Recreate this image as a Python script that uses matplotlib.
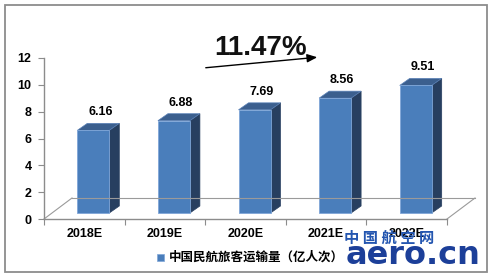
import matplotlib
matplotlib.use("Agg")
import matplotlib.pyplot as plt
from matplotlib.patches import Polygon, Rectangle

categories = ["2018E", "2019E", "2020E", "2021E", "2022E"]
values = [6.16, 6.88, 7.69, 8.56, 9.51]
yticks = [0, 2, 4, 6, 8, 10, 12]
growth_label = "11.47%"
legend_label = "中国民航旅客运输量（亿人次）"

W, H = 494, 278
fig = plt.figure(figsize=(W / 100, H / 100), dpi=100)
fig.patch.set_facecolor("white")

# outer frame
fig.patches.append(Rectangle((5 / W, 6 / H), 482 / W, 267 / H, transform=fig.transFigure,
                             fill=False, edgecolor="#8c8c8c", linewidth=1.3))

ax = fig.add_axes([44 / W, 59 / H, 403 / W, 161 / H])
ax.set_xlim(-0.5, len(categories) - 0.5)
ax.set_ylim(0, 12)
ax.set_facecolor("none")
px_x = len(categories) / 403.0
px_y = 12 / 161.0

for s in ["top", "right"]:
    ax.spines[s].set_visible(False)
for s in ["left", "bottom"]:
    ax.spines[s].set_color("#8c8c8c")
    ax.spines[s].set_linewidth(1.0)

ax.set_yticks(yticks)
ax.set_yticklabels([str(t) for t in yticks], fontsize=9, fontweight="bold",
                   family=["Liberation Sans", "DejaVu Sans"])
ax.tick_params(axis="y", length=4, color="#8c8c8c", pad=5)
ax.set_xticks([i + 0.5 for i in range(-1, len(categories))], minor=False)
ax.set_xticklabels([])
ax.tick_params(axis="x", length=4, color="#8c8c8c", direction="out")
for i, c in enumerate(categories):
    ax.text(i, -0.7, c, ha="center", va="top", fontsize=9, fontweight="bold",
            family=["Liberation Sans", "DejaVu Sans"])

# floor (3D perspective)
fdx, fdy = 28 * px_x, 21 * px_y
x0, x1 = -0.5, len(categories) - 0.5
floor_kw = dict(color="#9a9a9a", linewidth=0.8, clip_on=False)
ax.plot([x0, x0 + fdx], [0, fdy], **floor_kw)
ax.plot([x1, x1 + fdx], [0, fdy], **floor_kw)
ax.plot([x0 + fdx, x1 + fdx], [fdy, fdy], **floor_kw)

# 3D bars
off_x, off_y = 9 * px_x, 6 * px_y
hw = 16 * px_x
dx, dy = 10 * px_x, 7 * px_y
front_c, side_c, top_c = "#4a7ebb", "#273f60", "#3b5f8e"
for i, v in enumerate(values):
    xl, xr = i + off_x - hw, i + off_x + hw
    yb, yt = off_y, v + off_y
    ax.add_patch(Polygon([(xr, yb), (xr + dx, yb + dy), (xr + dx, yt + dy), (xr, yt)],
                         closed=True, facecolor=side_c, edgecolor=side_c, linewidth=0.5, clip_on=False))
    ax.add_patch(Polygon([(xl, yt), (xr, yt), (xr + dx, yt + dy), (xl + dx, yt + dy)],
                         closed=True, facecolor=top_c, edgecolor="#5b82b8", linewidth=0.5, clip_on=False))
    ax.add_patch(Rectangle((xl, yb), xr - xl, yt - yb, facecolor=front_c,
                           edgecolor="#7fa6d8", linewidth=0.6, clip_on=False))
    ax.text((xl + xr + dx) / 2 + 2 * px_x, yt + dy + 5 * px_y, f"{v:.2f}", ha="center", va="bottom",
            fontsize=9, fontweight="bold", family=["Liberation Sans", "DejaVu Sans"])

# growth annotation
fig.text(261 / W, 1 - 48 / H, growth_label, ha="center", va="center", fontsize=20,
         fontweight="bold", color="#111111", family=["Liberation Sans", "DejaVu Sans"])
fig.add_artist(matplotlib.patches.FancyArrowPatch(
    (203 / W, 1 - 68 / H), (320 / W, 1 - 57 / H), transform=fig.transFigure,
    arrowstyle="-|>,head_length=6,head_width=2.5", color="black", linewidth=1.0))

# legend
fig.patches.append(Rectangle((157 / W, 1 - 261 / H), 7 / W, 7 / H, transform=fig.transFigure,
                             facecolor=front_c, edgecolor="#7fa6d8", linewidth=0.5))
fig.text(169 / W, 1 - 257 / H, legend_label, ha="left", va="center", fontsize=9, fontweight="bold",
         family=["Noto Sans CJK SC", "DejaVu Sans"])

# watermark
fig.text(389 / W, 1 - 238 / H, "中 国 航 空 网", ha="center", va="center", fontsize=11,
         color="#2456b0", fontweight="bold", family=["Noto Sans CJK SC", "DejaVu Sans"])
fig.text(413 / W, 1 - 256 / H, "aero.cn", ha="center", va="center", fontsize=23,
         color="#1c3f99", fontweight="bold", family=["DejaVu Sans"])

fig.savefig("out.png", dpi=100)
